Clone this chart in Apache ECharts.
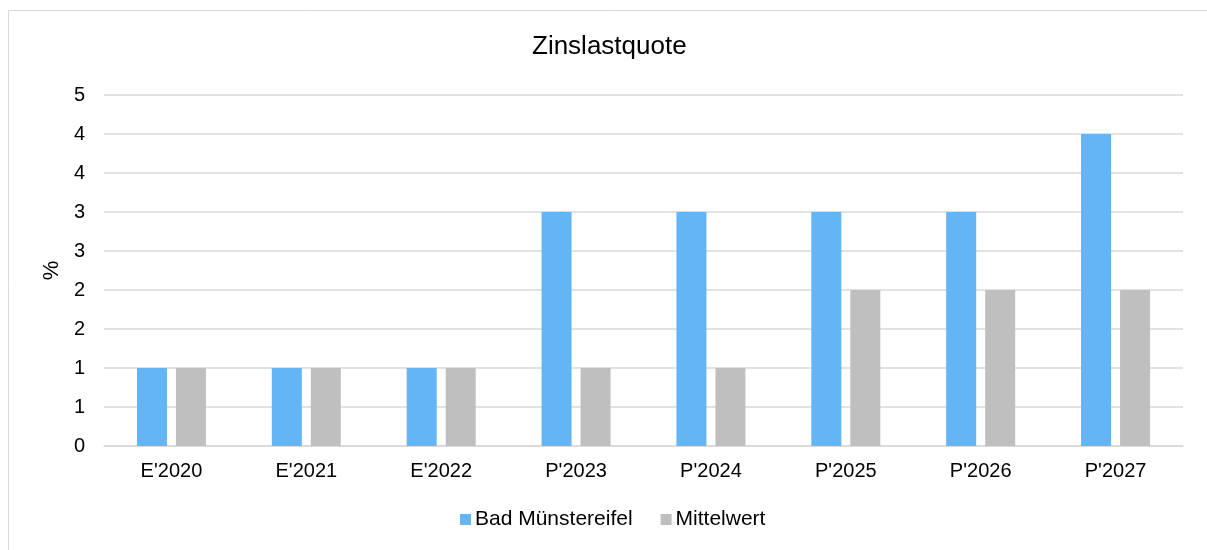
<!DOCTYPE html>
<html>
<head>
<meta charset="utf-8">
<script src="https://cdn.jsdelivr.net/npm/echarts@6/dist/echarts.min.js"></script>
<style>
  html, body { margin: 0; padding: 0; background: #fff; }
  #chart { width: 1207px; height: 550px; }
</style>
</head>
<body>
<div id="chart"></div>
<script>
// Zinslastquote in %
const categories = ["E'2020", "E'2021", "E'2022", "P'2023", "P'2024", "P'2025", "P'2026", "P'2027"]
const badMuenstereifel = [1, 1, 1, 3, 3, 3, 3, 4]
const mittelwert = [1, 1, 1, 1, 1, 2, 2, 2]

const chart = echarts.init(document.getElementById('chart'))
const font = 'Liberation Sans, Arial, sans-serif'

chart.setOption({
  animation: false,
  textStyle: { fontFamily: font },
  graphic: [{
    type: 'rect',
    shape: { x: 8.5, y: 10.5, width: 1300, height: 600 },
    style: { fill: 'none', stroke: '#d9d9d9', lineWidth: 1 },
    silent: true
  }],
  title: {
    text: 'Zinslastquote',
    left: 532,
    top: 34,
    padding: 0,
    textStyle: { fontSize: 26, fontWeight: 'normal', color: '#000', fontFamily: font }
  },
  legend: {
    top: 509,
    left: 460,
    padding: 0,
    itemWidth: 11,
    itemHeight: 11,
    itemGap: 28,
    icon: 'rect',
    textStyle: { fontSize: 21, color: '#000', fontFamily: font, padding: [0, 0, 0, -1] },
    data: ['Bad Münstereifel', 'Mittelwert']
  },
  grid: { left: 104, right: 24, top: 95, bottom: 104 },
  xAxis: {
    type: 'category',
    data: categories,
    axisTick: { show: false },
    axisLine: { lineStyle: { color: '#d9d9d9', width: 1.5 } },
    axisLabel: { fontSize: 20, color: '#000', margin: 15 }
  },
  yAxis: {
    type: 'value',
    min: 0,
    max: 4.5,
    interval: 0.5,
    name: '%',
    nameLocation: 'middle',
    nameGap: 39,
    nameRotate: 90,
    nameTextStyle: { fontSize: 22, color: '#000' },
    axisLine: { show: false },
    axisTick: { show: false },
    axisLabel: { fontSize: 20, color: '#000', margin: 19, formatter: v => Math.round(v) },
    splitLine: { lineStyle: { color: '#d9d9d9', width: 1.5 } }
  },
  series: [
    {
      name: 'Bad Münstereifel',
      type: 'bar',
      data: badMuenstereifel,
      barWidth: 30,
      barGap: '30%',
      itemStyle: { color: '#63b5f5' }
    },
    {
      name: 'Mittelwert',
      type: 'bar',
      data: mittelwert,
      barWidth: 30,
      itemStyle: { color: '#bfbfbf' }
    }
  ]
})

window.addEventListener('resize', () => {
  chart.resize()
})
</script>
</body>
</html>
